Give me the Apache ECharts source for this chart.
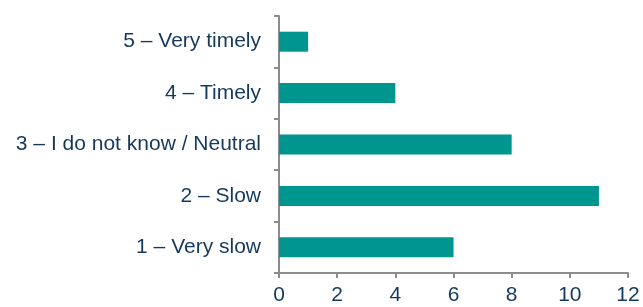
<!DOCTYPE html>
<html lang="en">
<head>
    <meta charset="UTF-8">
    <title>timeliness</title>
    <script src="https://cdn.jsdelivr.net/npm/echarts@6/dist/echarts.min.js"></script>
    <style>
        html, body { margin: 0; padding: 0; background: #fff; }
        #chart { width: 643px; height: 307px; }
    </style>
</head>
<body>
    <div id="chart"></div>
<script>
    var categories = ['1 – Very slow', '2 – Slow', '3 – I do not know / Neutral', '4 – Timely', '5 – Very timely'];
    var counts = [6, 11, 8, 4, 1];
    var xTicks = [0, 2, 4, 6, 8, 10, 12];

    var textColor = '#14395f';
    var axisColor = '#8c8c8c';

    var chart = echarts.init(document.getElementById('chart'));
    chart.setOption({
        animation: false,
        grid: { left: 279, right: 15, top: 16, bottom: 34 },
        xAxis: {
            type: 'value',
            min: xTicks[0],
            max: xTicks[xTicks.length - 1],
            interval: 2,
            splitLine: { show: false },
            axisLine: { show: true, lineStyle: { color: axisColor, width: 2 } },
            axisTick: { show: true, length: 5, lineStyle: { color: axisColor, width: 2 } },
            axisLabel: { color: textColor, fontSize: 21, fontFamily: 'Liberation Sans, Arial', margin: 12 }
        },
        yAxis: {
            type: 'category',
            data: categories,
            axisLine: { lineStyle: { color: axisColor, width: 2 } },
            axisTick: { show: true, length: 5, lineStyle: { color: axisColor, width: 2 } },
            axisLabel: { color: textColor, fontSize: 21, fontFamily: 'Liberation Sans, Arial', margin: 18 }
        },
        series: [{
            type: 'bar',
            data: counts,
            barWidth: 20,
            itemStyle: { color: '#009690' }
        }]
    });
</script>
</body>
</html>
